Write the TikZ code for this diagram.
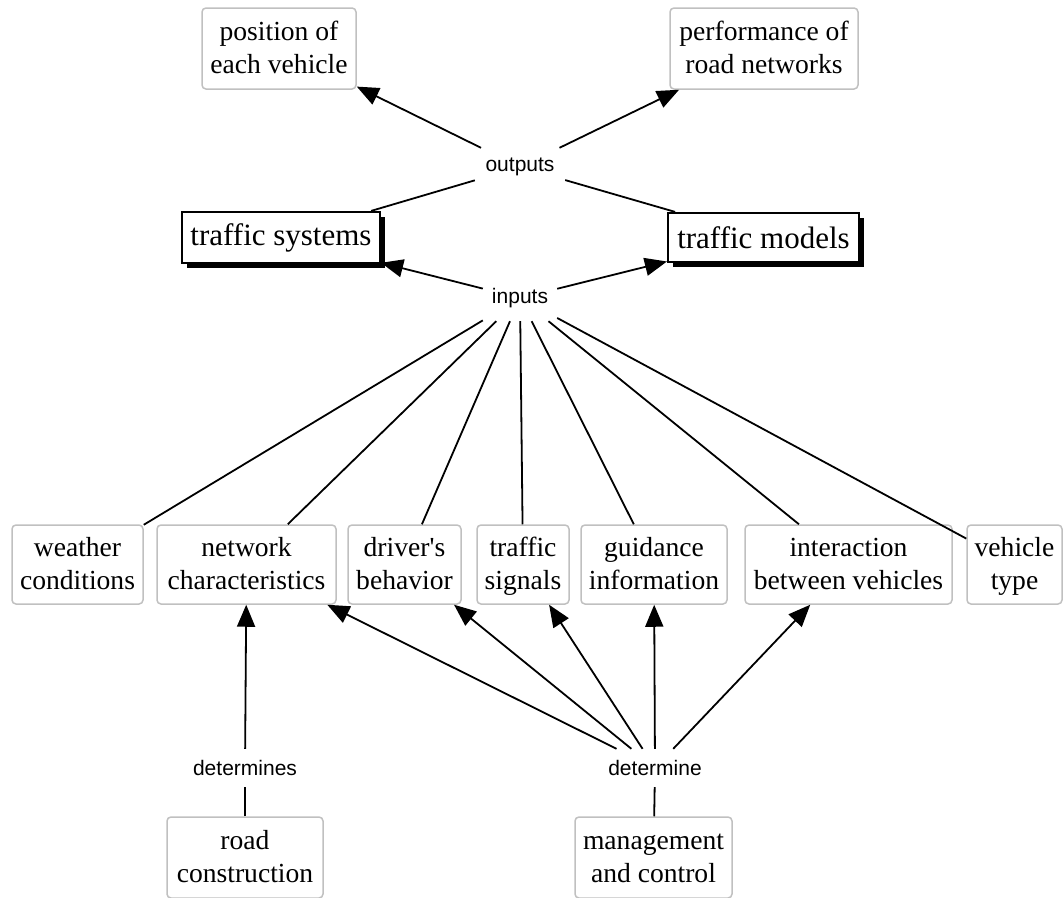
\documentclass[tikz,border=0pt]{standalone}
\usepackage{fontspec}
\setmainfont{Liberation Serif}
\newfontfamily\labelfont{Liberation Sans}
\usetikzlibrary{arrows.meta,shadows}
\definecolor{boxgray}{RGB}{192,192,192}
\newcommand\bst{\rule[-8pt]{0pt}{33pt}}
\begin{document}
\begin{tikzpicture}[x=1pt,y=-1pt,
  box/.style={draw=boxgray, line width=1.5pt, rounded corners=4pt, align=center,
    font=\fontsize{27.6}{33}\selectfont, inner sep=0pt, minimum height=79pt},
  sysbox/.style={draw=black, line width=2.2pt, fill=white, align=center,
    font=\fontsize{31}{36}\selectfont, inner sep=0pt,
    drop shadow={shadow xshift=5pt, shadow yshift=-5pt, fill=black, opacity=1}},
  lbl/.style={font=\labelfont\fontsize{21}{25}\selectfont, inner sep=0pt},
  edge/.style={draw=black, line width=1.8pt},
  arr/.style={edge, -{Triangle[length=22pt,width=18pt]}}
]
\useasboundingbox (0,0) rectangle (1063,897);
% top
\node[box, minimum width=154pt, minimum height=81pt] (pos) at (279,48.5) {position of\bst\\each vehicle\bst};
\node[box, minimum width=188pt, minimum height=81pt] (perf) at (764,48.5) {performance of\bst\\road networks\bst};
\node[sysbox, minimum width=198pt, minimum height=51pt] (tsys) at (281,237.5) {traffic systems};
\node[sysbox, minimum width=191pt, minimum height=49pt] (tmod) at (763.5,237.5) {traffic models};
\node[lbl, minimum width=90pt, minimum height=38pt] (out) at (520,167) {outputs};
\node[lbl, minimum width=74pt, minimum height=46pt] (in) at (520,298) {inputs};
% middle row
\node[box, minimum width=131pt] (weather) at (77.5,564.5) {weather\bst\\conditions\bst};
\node[box, minimum width=179pt] (network) at (246.5,564.5) {network\bst\\characteristics\bst};
\node[box, minimum width=113pt] (driver) at (404.5,564.5) {driver\textquotesingle s\bst\\behavior\bst};
\node[box, minimum width=92pt] (signals) at (523,564.5) {traffic\bst\\signals\bst};
\node[box, minimum width=146pt] (guidance) at (654,564.5) {guidance\bst\\information\bst};
\node[box, minimum width=207pt] (interaction) at (848.5,564.5) {interaction\bst\\between vehicles\bst};
\node[box, minimum width=95pt] (vtype) at (1014.5,564.5) {vehicle\bst\\type\bst};
% bottom
\node[lbl, minimum height=38pt] (dets) at (245,768) {determines};
\node[lbl, minimum height=38pt] (det) at (655,768) {determine};
\node[box, minimum width=156pt, minimum height=81pt] (road) at (245,857.5) {road\bst\\construction\bst};
\node[box, minimum width=157pt, minimum height=81pt] (mgmt) at (653.5,857.5) {management\bst\\and control\bst};
% connectors
\draw[edge] (tsys) -- (out);
\draw[edge] (tmod) -- (out);
\draw[arr] (out) -- (pos);
\draw[arr] (out) -- (perf);
\draw[arr] (in) -- (tsys);
\draw[arr] (in) -- (tmod);
\foreach \n in {weather,network,driver,signals,guidance,interaction,vtype}
  \draw[edge] (\n) -- (in);
\draw[edge] (road) -- (dets);
\draw[arr] (dets) -- (network);
\draw[edge] (mgmt) -- (det);
\foreach \n in {network,driver,signals,guidance,interaction}
  \draw[arr] (det) -- (\n);
\end{tikzpicture}
\end{document}
